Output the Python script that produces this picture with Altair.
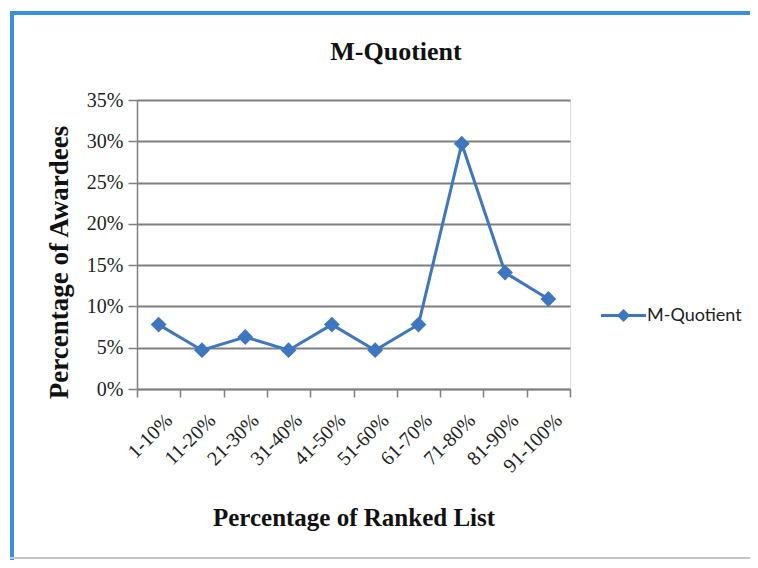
import altair as alt
import pandas as pd

categories = ["1-10%", "11-20%", "21-30%", "31-40%", "41-50%",
              "51-60%", "61-70%", "71-80%", "81-90%", "91-100%"]
values = [0.078, 0.047, 0.063, 0.047, 0.078, 0.047, 0.078, 0.297, 0.141, 0.109]
series = "M-Quotient"
chart_title = "M-Quotient"
y_ticks = [0, 0.05, 0.10, 0.15, 0.20, 0.25, 0.30, 0.35]

df = pd.DataFrame({"range": categories, "pct": values, "series": [series] * len(values)})

BLUE = "#3f76c0"
SERIF = "Liberation Serif"
GRAY = "#7f7f7f"

base = alt.Chart(df)

line = base.mark_line(
    strokeWidth=3,
    point=alt.OverlayMarkDef(shape="diamond", size=250, filled=True, color=BLUE),
).encode(
    x=alt.X("range:N", sort=categories, bandPosition=0.5,
            scale=alt.Scale(type="band", paddingInner=0, paddingOuter=0),
            axis=alt.Axis(title="Percentage of Ranked List", labelAngle=-45,
                          tickBand="extent", grid=False, tickSize=8,
                          labelFont=SERIF, labelFontSize=20, labelPadding=13, labelOffset=3,
                          titleFont=SERIF, titleFontSize=25, titleFontWeight="bold",
                          titlePadding=30, domainColor=GRAY, tickColor=GRAY,
                          domainWidth=1.5, tickWidth=1.5,
                          labelColor="#222", titleColor="#111")),
    y=alt.Y("pct:Q", scale=alt.Scale(domain=[0, 0.35], nice=False),
            axis=alt.Axis(title="Percentage of Awardees", values=y_ticks, format=".0%",
                          grid=True, gridColor=GRAY, gridWidth=1.8, tickSize=9,
                          labelFont=SERIF, labelFontSize=20, labelPadding=5,
                          titleFont=SERIF, titleFontSize=27, titleFontWeight="bold",
                          titlePadding=13, titleY=162, domainColor=GRAY, tickColor=GRAY,
                          domainWidth=1.5, tickWidth=1.5,
                          labelColor="#222", titleColor="#111")),
    color=alt.Color("series:N", scale=alt.Scale(range=[BLUE]),
                    legend=alt.Legend(title=None, orient="none", legendX=475, legendY=204,
                                      symbolType="M-2.25,0L2.25,0M0,-0.45L0.45,0L0,0.45L-0.45,0Z",
                                      symbolSize=400, symbolStrokeWidth=3,
                                      symbolFillColor=BLUE, symbolStrokeColor=BLUE,
                                      labelFont="Lato", labelFontSize=18, labelColor="#222",
                                      labelOffset=12)),
)

title_text = alt.Chart(alt.Data(values=[{}])).mark_text(
    font=SERIF, fontSize=26, fontWeight="bold", color="#111", align="center", baseline="middle"
).encode(x=alt.value(259), y=alt.value(-48), text=alt.value(chart_title))

frame_top = alt.Chart(alt.Data(values=[{}])).mark_rule(color="#3a8fe0", strokeWidth=4).encode(
    x=alt.value(-127), x2=alt.value(625), y=alt.value(-87))
frame_left = alt.Chart(alt.Data(values=[{}])).mark_rule(color="#3a8fe0", strokeWidth=4).encode(
    x=alt.value(-125), y=alt.value(-89), y2=alt.value(460))
frame_bottom = alt.Chart(alt.Data(values=[{}])).mark_rule(color="#c4c4cc", strokeWidth=2).encode(
    x=alt.value(-127), x2=alt.value(625), y=alt.value(458))

chart = alt.layer(line, title_text, frame_top, frame_left, frame_bottom).properties(
    width=433, height=289,
    autosize=alt.AutoSizeParams(type="none"),
    padding={"left": 129, "top": 92, "right": 180, "bottom": 171},
).configure_view(stroke=None).configure(background="white")

chart.save("out.html", embed_options={"renderer": "svg", "actions": False})
